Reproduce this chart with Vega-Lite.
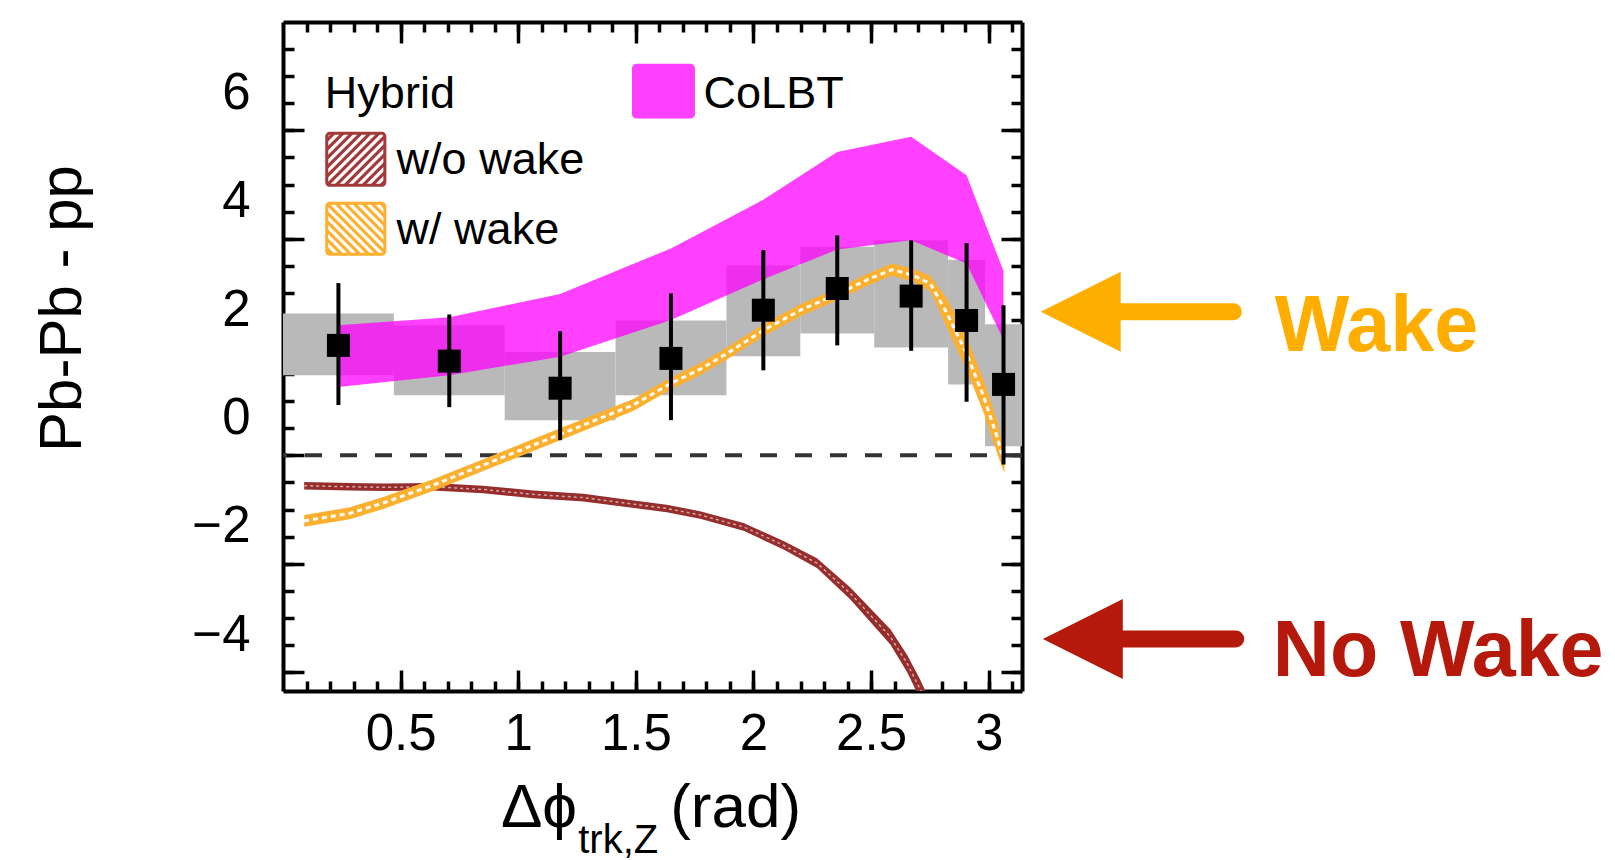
{
  "$schema": "https://vega.github.io/schema/vega-lite/v6.json",
  "autosize": {"type": "none"},
  "width": 739,
  "height": 669,
  "padding": {"left": 283, "top": 22, "right": 593, "bottom": 169},
  "background": "white",
  "config": {
    "view": {"stroke": null},
    "font": "Liberation Sans",
    "axis": {
      "grid": false,
      "domainColor": "#000",
      "tickColor": "#000",
      "tickWidth": 3.5,
      "domainWidth": 4,
      "labelFont": "Liberation Sans",
      "labelColor": "#000",
      "labelFontSize": 51,
      "labelOverlap": false,
      "labelFlush": false,
      "labelBound": false,
      "titleFont": "Liberation Sans",
      "titleColor": "#000",
      "titleFontWeight": "normal",
      "zindex": 1
    }
  },
  "datasets": {
    "bins": [
      {"lo": 0, "hi": 0.4712, "x": 0.2356, "y": 2.03, "eLo": 0.93, "eHi": 3.18, "sLo": 1.48, "sHi": 2.62},
      {"lo": 0.4712, "hi": 0.9425, "x": 0.7069, "y": 1.74, "eLo": 0.89, "eHi": 2.60, "sLo": 1.11, "sHi": 2.40},
      {"lo": 0.9425, "hi": 1.4137, "x": 1.1781, "y": 1.24, "eLo": 0.28, "eHi": 2.29, "sLo": 0.65, "sHi": 1.91},
      {"lo": 1.4137, "hi": 1.885, "x": 1.6493, "y": 1.79, "eLo": 0.65, "eHi": 2.99, "sLo": 1.11, "sHi": 2.49},
      {"lo": 1.885, "hi": 2.1991, "x": 2.042, "y": 2.68, "eLo": 1.57, "eHi": 3.79, "sLo": 1.83, "sHi": 3.51},
      {"lo": 2.1991, "hi": 2.5133, "x": 2.3562, "y": 3.08, "eLo": 2.03, "eHi": 4.06, "sLo": 2.25, "sHi": 3.85},
      {"lo": 2.5133, "hi": 2.8274, "x": 2.6704, "y": 2.94, "eLo": 1.93, "eHi": 3.97, "sLo": 1.99, "sHi": 3.97},
      {"lo": 2.8274, "hi": 2.9845, "x": 2.906, "y": 2.49, "eLo": 0.99, "eHi": 3.92, "sLo": 1.31, "sHi": 3.61},
      {"lo": 2.9845, "hi": 3.1416, "x": 3.0631, "y": 1.31, "eLo": -0.17, "eHi": 2.77, "sLo": 0.17, "sHi": 2.42}
    ],
    "colbt": [
      {"x": 0.2356, "lo": 1.26, "hi": 2.40},
      {"x": 0.7069, "lo": 1.48, "hi": 2.55},
      {"x": 1.1781, "lo": 1.82, "hi": 2.98},
      {"x": 1.6493, "lo": 2.50, "hi": 3.82},
      {"x": 2.042, "lo": 3.25, "hi": 4.72},
      {"x": 2.3562, "lo": 3.80, "hi": 5.60},
      {"x": 2.6704, "lo": 3.97, "hi": 5.88},
      {"x": 2.906, "lo": 3.54, "hi": 5.17},
      {"x": 3.0631, "lo": 2.13, "hi": 3.40}
    ],
    "wake": [
      {"x": 0.09, "y": -1.21, "lo": -1.32, "hi": -1.10},
      {"x": 0.284, "y": -1.07, "lo": -1.18, "hi": -0.96},
      {"x": 0.426, "y": -0.88, "lo": -0.99, "hi": -0.77},
      {"x": 0.638, "y": -0.55, "lo": -0.66, "hi": -0.44},
      {"x": 0.851, "y": -0.18, "lo": -0.29, "hi": -0.07},
      {"x": 1.064, "y": 0.19, "lo": 0.08, "hi": 0.30},
      {"x": 1.277, "y": 0.56, "lo": 0.45, "hi": 0.67},
      {"x": 1.489, "y": 0.93, "lo": 0.82, "hi": 1.04},
      {"x": 1.65, "y": 1.33, "lo": 1.22, "hi": 1.44},
      {"x": 1.773, "y": 1.59, "lo": 1.48, "hi": 1.70},
      {"x": 1.887, "y": 1.88, "lo": 1.77, "hi": 1.99},
      {"x": 2.043, "y": 2.31, "lo": 2.20, "hi": 2.42},
      {"x": 2.199, "y": 2.68, "lo": 2.57, "hi": 2.79},
      {"x": 2.358, "y": 2.98, "lo": 2.87, "hi": 3.09},
      {"x": 2.483, "y": 3.24, "lo": 3.13, "hi": 3.35},
      {"x": 2.589, "y": 3.43, "lo": 3.32, "hi": 3.54},
      {"x": 2.681, "y": 3.32, "lo": 3.20, "hi": 3.44},
      {"x": 2.752, "y": 3.17, "lo": 3.03, "hi": 3.31},
      {"x": 2.823, "y": 2.62, "lo": 2.35, "hi": 2.89},
      {"x": 2.909, "y": 1.85, "lo": 1.55, "hi": 2.15},
      {"x": 2.979, "y": 1.08, "lo": 0.78, "hi": 1.38},
      {"x": 3.036, "y": 0.34, "lo": 0.04, "hi": 0.64},
      {"x": 3.067, "y": -0.17, "lo": -0.33, "hi": 0.0}
    ],
    "nowake": [
      {"x": 0.09, "y": -0.56, "lo": -0.63, "hi": -0.49},
      {"x": 0.284, "y": -0.58, "lo": -0.65, "hi": -0.51},
      {"x": 0.426, "y": -0.59, "lo": -0.66, "hi": -0.52},
      {"x": 0.638, "y": -0.58, "lo": -0.65, "hi": -0.51},
      {"x": 0.851, "y": -0.63, "lo": -0.70, "hi": -0.56},
      {"x": 1.064, "y": -0.72, "lo": -0.79, "hi": -0.65},
      {"x": 1.277, "y": -0.78, "lo": -0.85, "hi": -0.71},
      {"x": 1.418, "y": -0.86, "lo": -0.93, "hi": -0.79},
      {"x": 1.631, "y": -0.98, "lo": -1.05, "hi": -0.91},
      {"x": 1.773, "y": -1.10, "lo": -1.17, "hi": -1.03},
      {"x": 1.958, "y": -1.32, "lo": -1.39, "hi": -1.25},
      {"x": 2.128, "y": -1.66, "lo": -1.74, "hi": -1.58},
      {"x": 2.27, "y": -1.99, "lo": -2.08, "hi": -1.90},
      {"x": 2.412, "y": -2.55, "lo": -2.66, "hi": -2.44},
      {"x": 2.582, "y": -3.35, "lo": -3.49, "hi": -3.21},
      {"x": 2.653, "y": -3.84, "lo": -4.00, "hi": -3.68},
      {"x": 2.71, "y": -4.33, "lo": -4.51, "hi": -4.15},
      {"x": 2.77, "y": -4.90, "lo": -5.08, "hi": -4.72}
    ],
    "swatches": [
      {"key": "w/o wake", "x": 0.186, "x2": 0.433, "y": 4.985, "y2": 5.945},
      {"key": "w/ wake", "x": 0.186, "x2": 0.433, "y": 3.712, "y2": 4.653},
      {"key": "CoLBT", "x": 1.49, "x2": 1.745, "y": 6.245, "y2": 7.2}
    ],
    "hatch": [
      {"key": "w/o wake", "x": 0.1864, "y": 5.815, "x2": 0.2162, "y2": 5.945},
      {"key": "w/o wake", "x": 0.1864, "y": 5.649, "x2": 0.2545, "y2": 5.945},
      {"key": "w/o wake", "x": 0.1864, "y": 5.483, "x2": 0.2928, "y2": 5.945},
      {"key": "w/o wake", "x": 0.1864, "y": 5.317, "x2": 0.3311, "y2": 5.945},
      {"key": "w/o wake", "x": 0.1864, "y": 5.151, "x2": 0.3694, "y2": 5.945},
      {"key": "w/o wake", "x": 0.1864, "y": 4.985, "x2": 0.4077, "y2": 5.945},
      {"key": "w/o wake", "x": 0.2247, "y": 4.985, "x2": 0.4332, "y2": 5.889},
      {"key": "w/o wake", "x": 0.2630, "y": 4.985, "x2": 0.4332, "y2": 5.723},
      {"key": "w/o wake", "x": 0.3013, "y": 4.985, "x2": 0.4332, "y2": 5.557},
      {"key": "w/o wake", "x": 0.3396, "y": 4.985, "x2": 0.4332, "y2": 5.391},
      {"key": "w/o wake", "x": 0.3779, "y": 4.985, "x2": 0.4332, "y2": 5.225},
      {"key": "w/o wake", "x": 0.4162, "y": 4.985, "x2": 0.4332, "y2": 5.059},
      {"key": "w/ wake", "x": 0.1864, "y": 3.823, "x2": 0.2119, "y2": 3.712},
      {"key": "w/ wake", "x": 0.1864, "y": 3.989, "x2": 0.2502, "y2": 3.712},
      {"key": "w/ wake", "x": 0.1864, "y": 4.155, "x2": 0.2885, "y2": 3.712},
      {"key": "w/ wake", "x": 0.1864, "y": 4.321, "x2": 0.3268, "y2": 3.712},
      {"key": "w/ wake", "x": 0.1864, "y": 4.487, "x2": 0.3651, "y2": 3.712},
      {"key": "w/ wake", "x": 0.1864, "y": 4.653, "x2": 0.4034, "y2": 3.712},
      {"key": "w/ wake", "x": 0.2247, "y": 4.653, "x2": 0.4332, "y2": 3.749},
      {"key": "w/ wake", "x": 0.2630, "y": 4.653, "x2": 0.4332, "y2": 3.915},
      {"key": "w/ wake", "x": 0.3013, "y": 4.653, "x2": 0.4332, "y2": 4.081},
      {"key": "w/ wake", "x": 0.3396, "y": 4.653, "x2": 0.4332, "y2": 4.247},
      {"key": "w/ wake", "x": 0.3779, "y": 4.653, "x2": 0.4332, "y2": 4.413},
      {"key": "w/ wake", "x": 0.4162, "y": 4.653, "x2": 0.4332, "y2": 4.579}
    ],
    "legendText": [
      {"x": 0.178, "y": 6.42, "text": "Hybrid"},
      {"x": 0.483, "y": 5.19, "text": "w/o wake"},
      {"x": 0.483, "y": 3.91, "text": "w/ wake"},
      {"x": 1.788, "y": 6.42, "text": "CoLBT"}
    ],
    "arrows": [
      {"key": "Wake", "tipX": 3.391, "x": 3.50, "x2": 4.04, "y": 2.65, "tx": 4.216, "ty": 1.92},
      {"key": "No Wake", "tipX": 3.40, "x": 3.50, "x2": 4.05, "y": -3.39, "tx": 4.208, "ty": -4.08}
    ],
    "xtitle": [
      {"x": 1.25, "y": -6.86, "text": "Δϕ", "part": "main"},
      {"x": 1.646, "y": -6.86, "text": "(rad)", "part": "unit"},
      {"x": 1.255, "y": -7.34, "text": "trk,Z", "part": "sub"}
    ]
  },
  "resolve": {
    "axis": {"x": "independent", "y": "independent"},
    "scale": {"color": "independent", "fill": "independent", "stroke": "independent"}
  },
  "layer": [
    {
      "data": {"name": "bins"},
      "mark": {"type": "rect", "color": "#B9B9B9", "opacity": 1},
      "encoding": {
        "x": {"field": "lo", "type": "quantitative", "scale": {"domain": [0, 3.14159], "nice": false, "zero": false},
          "axis": {"orient": "bottom", "values": [0.5, 1, 1.5, 2, 2.5, 3], "format": "~g", "tickSize": -21, "labelPadding": 39, "title": null, "domain": true}},
        "x2": {"field": "hi"},
        "y": {"field": "sLo", "type": "quantitative", "scale": {"domain": [-4.35, 8], "nice": false, "zero": false},
          "axis": {"orient": "left", "values": [-4, -2, 0, 2, 4, 6], "format": "~g", "tickSize": -21, "labelPadding": 54, "labelOffset": -37,
            "title": "Pb-Pb - pp", "titleFontSize": 60, "titleX": -221, "titleY": 286, "titleAngle": -90, "titleAlign": "center", "titleBaseline": "middle", "domain": true}},
        "y2": {"field": "sHi"}
      }
    },
    {
      "data": {"name": "colbt"},
      "mark": {"type": "area", "color": "#FF00FF", "opacity": 0.75, "orient": "vertical", "clip": true},
      "encoding": {
        "x": {"field": "x", "type": "quantitative", "scale": {"domain": [0, 3.14159], "nice": false, "zero": false},
          "axis": {"orient": "bottom", "values": [0.1,0.2,0.3,0.4,0.5,0.6,0.7,0.8,0.9,1,1.1,1.2,1.3,1.4,1.5,1.6,1.7,1.8,1.9,2,2.1,2.2,2.3,2.4,2.5,2.6,2.7,2.8,2.9,3,3.1], "tickSize": -10, "labels": false, "domain": false, "title": null}},
        "y": {"field": "lo", "type": "quantitative", "scale": {"domain": [-4.35, 8], "nice": false, "zero": false},
          "axis": {"orient": "left", "values": [-4,-3.5,-3,-2.5,-2,-1.5,-1,-0.5,0,0.5,1,1.5,2,2.5,3,3.5,4,4.5,5,5.5,6,6.5,7,7.5], "tickSize": -11, "labels": false, "domain": false, "title": null}},
        "y2": {"field": "hi"}
      }
    },
    {
      "data": {"values": [{}]},
      "mark": {"type": "rule", "color": "#333333", "strokeWidth": 4, "strokeDash": [17, 18]},
      "encoding": {
        "y": {"datum": 0, "type": "quantitative", "scale": {"domain": [-4.35, 8], "nice": false, "zero": false}, "axis": null}
      }
    },
    {
      "data": {"name": "nowake"},
      "mark": {"type": "area", "color": "#962E2E", "orient": "vertical", "clip": true},
      "encoding": {
        "x": {"field": "x", "type": "quantitative", "scale": {"domain": [0, 3.14159], "nice": false, "zero": false},
          "axis": {"orient": "top", "values": [0.5, 1, 1.5, 2, 2.5, 3], "tickSize": -21, "labels": false, "domain": true, "title": null}},
        "y": {"field": "lo", "type": "quantitative", "scale": {"domain": [-4.35, 8], "nice": false, "zero": false},
          "axis": {"orient": "right", "values": [-4, -2, 0, 2, 4, 6], "tickSize": -21, "labels": false, "domain": true, "title": null}},
        "y2": {"field": "hi"}
      }
    },
    {
      "data": {"name": "nowake"},
      "mark": {"type": "line", "color": "#D8A4A4", "strokeWidth": 1.5, "strokeDash": [3, 3], "clip": true},
      "encoding": {
        "x": {"field": "x", "type": "quantitative", "scale": {"domain": [0, 3.14159], "nice": false, "zero": false},
          "axis": {"orient": "top", "values": [0.1,0.2,0.3,0.4,0.5,0.6,0.7,0.8,0.9,1,1.1,1.2,1.3,1.4,1.5,1.6,1.7,1.8,1.9,2,2.1,2.2,2.3,2.4,2.5,2.6,2.7,2.8,2.9,3,3.1], "tickSize": -10, "labels": false, "domain": false, "title": null}},
        "y": {"field": "y", "type": "quantitative", "scale": {"domain": [-4.35, 8], "nice": false, "zero": false},
          "axis": {"orient": "right", "values": [-4,-3.5,-3,-2.5,-2,-1.5,-1,-0.5,0,0.5,1,1.5,2,2.5,3,3.5,4,4.5,5,5.5,6,6.5,7,7.5], "tickSize": -11, "labels": false, "domain": false, "title": null}}
      }
    },
    {
      "data": {"name": "wake"},
      "mark": {"type": "area", "color": "#FBB030", "orient": "vertical", "clip": true},
      "encoding": {
        "x": {"field": "x", "type": "quantitative", "scale": {"domain": [0, 3.14159], "nice": false, "zero": false}, "axis": null},
        "y": {"field": "lo", "type": "quantitative", "scale": {"domain": [-4.35, 8], "nice": false, "zero": false}, "axis": null},
        "y2": {"field": "hi"}
      }
    },
    {
      "data": {"name": "wake"},
      "mark": {"type": "line", "color": "#FFFFFF", "strokeWidth": 3, "strokeDash": [5, 4], "clip": true},
      "encoding": {
        "x": {"field": "x", "type": "quantitative", "scale": {"domain": [0, 3.14159], "nice": false, "zero": false}, "axis": null},
        "y": {"field": "y", "type": "quantitative", "scale": {"domain": [-4.35, 8], "nice": false, "zero": false}, "axis": null}
      }
    },
    {
      "data": {"name": "bins"},
      "mark": {"type": "rule", "color": "#000000", "strokeWidth": 4},
      "encoding": {
        "x": {"field": "x", "type": "quantitative", "scale": {"domain": [0, 3.14159], "nice": false, "zero": false}, "axis": null},
        "y": {"field": "eLo", "type": "quantitative", "scale": {"domain": [-4.35, 8], "nice": false, "zero": false}, "axis": null},
        "y2": {"field": "eHi"}
      }
    },
    {
      "data": {"name": "bins"},
      "mark": {"type": "point", "shape": "square", "filled": true, "color": "#000000", "opacity": 1, "size": 529, "strokeWidth": 0},
      "encoding": {
        "x": {"field": "x", "type": "quantitative", "scale": {"domain": [0, 3.14159], "nice": false, "zero": false}, "axis": null},
        "y": {"field": "y", "type": "quantitative", "scale": {"domain": [-4.35, 8], "nice": false, "zero": false}, "axis": null}
      }
    },
    {
      "data": {"name": "swatches"},
      "mark": {"type": "rect", "strokeWidth": 3, "cornerRadius": 3},
      "encoding": {
        "x": {"field": "x", "type": "quantitative", "scale": {"domain": [0, 3.14159], "nice": false, "zero": false}, "axis": null},
        "x2": {"field": "x2"},
        "y": {"field": "y", "type": "quantitative", "scale": {"domain": [-4.35, 8], "nice": false, "zero": false}, "axis": null},
        "y2": {"field": "y2"},
        "fill": {"field": "key", "type": "nominal", "scale": {"domain": ["w/o wake", "w/ wake", "CoLBT"], "range": ["#FFFFFF", "#FFFFFF", "#FF40FF"]}, "legend": null},
        "stroke": {"field": "key", "type": "nominal", "scale": {"domain": ["w/o wake", "w/ wake", "CoLBT"], "range": ["#A23A3A", "#FDB030", "#FF40FF"]}, "legend": null}
      }
    },
    {
      "data": {"name": "hatch"},
      "mark": {"type": "rule", "strokeWidth": 3.2, "strokeCap": "butt"},
      "encoding": {
        "x": {"field": "x", "type": "quantitative", "scale": {"domain": [0, 3.14159], "nice": false, "zero": false}, "axis": null},
        "x2": {"field": "x2"},
        "y": {"field": "y", "type": "quantitative", "scale": {"domain": [-4.35, 8], "nice": false, "zero": false}, "axis": null},
        "y2": {"field": "y2"},
        "color": {"field": "key", "type": "nominal", "scale": {"domain": ["w/o wake", "w/ wake"], "range": ["#A23A3A", "#FDB030"]}, "legend": null}
      }
    },
    {
      "data": {"name": "legendText"},
      "mark": {"type": "text", "align": "left", "baseline": "alphabetic", "fontSize": 45, "font": "Liberation Sans", "color": "#000000"},
      "encoding": {
        "x": {"field": "x", "type": "quantitative", "scale": {"domain": [0, 3.14159], "nice": false, "zero": false}, "axis": null},
        "y": {"field": "y", "type": "quantitative", "scale": {"domain": [-4.35, 8], "nice": false, "zero": false}, "axis": null},
        "text": {"field": "text"}
      }
    },
    {
      "data": {"name": "arrows"},
      "mark": {"type": "rule", "strokeWidth": 17, "strokeCap": "round", "clip": false},
      "encoding": {
        "x": {"field": "x", "type": "quantitative", "scale": {"domain": [0, 3.14159], "nice": false, "zero": false}, "axis": null},
        "x2": {"field": "x2"},
        "y": {"field": "y", "type": "quantitative", "scale": {"domain": [-4.35, 8], "nice": false, "zero": false}, "axis": null},
        "color": {"field": "key", "type": "nominal", "scale": {"domain": ["Wake", "No Wake"], "range": ["#FFAE00", "#B5190B"]}, "legend": null}
      }
    },
    {
      "data": {"name": "arrows"},
      "mark": {"type": "point", "shape": "M-1,0L1,-1L1,1Z", "filled": true, "opacity": 1, "size": 6400, "strokeWidth": 0, "clip": false},
      "encoding": {
        "x": {"field": "tipX", "type": "quantitative", "scale": {"domain": [0, 3.14159], "nice": false, "zero": false}, "axis": null},
        "y": {"field": "y", "type": "quantitative", "scale": {"domain": [-4.35, 8], "nice": false, "zero": false}, "axis": null},
        "color": {"field": "key", "type": "nominal", "scale": {"domain": ["Wake", "No Wake"], "range": ["#FFAE00", "#B5190B"]}, "legend": null}
      }
    },
    {
      "data": {"name": "arrows"},
      "mark": {"type": "text", "align": "left", "baseline": "alphabetic", "fontSize": 79, "fontWeight": "bold", "font": "Liberation Sans", "clip": false},
      "encoding": {
        "x": {"field": "tx", "type": "quantitative", "scale": {"domain": [0, 3.14159], "nice": false, "zero": false}, "axis": null},
        "y": {"field": "ty", "type": "quantitative", "scale": {"domain": [-4.35, 8], "nice": false, "zero": false}, "axis": null},
        "text": {"field": "key"},
        "color": {"field": "key", "type": "nominal", "scale": {"domain": ["Wake", "No Wake"], "range": ["#FFAE00", "#B5190B"]}, "legend": null}
      }
    },
    {
      "data": {"name": "xtitle"},
      "transform": [{"filter": "datum.part === 'main'"}],
      "mark": {"type": "text", "align": "right", "baseline": "alphabetic", "fontSize": 62, "font": "Liberation Sans", "color": "#000000", "clip": false},
      "encoding": {
        "x": {"field": "x", "type": "quantitative", "scale": {"domain": [0, 3.14159], "nice": false, "zero": false}, "axis": null},
        "y": {"field": "y", "type": "quantitative", "scale": {"domain": [-4.35, 8], "nice": false, "zero": false}, "axis": null},
        "text": {"field": "text"}
      }
    },
    {
      "data": {"name": "xtitle"},
      "transform": [{"filter": "datum.part === 'unit'"}],
      "mark": {"type": "text", "align": "left", "baseline": "alphabetic", "fontSize": 62, "font": "Liberation Sans", "color": "#000000", "clip": false},
      "encoding": {
        "x": {"field": "x", "type": "quantitative", "scale": {"domain": [0, 3.14159], "nice": false, "zero": false}, "axis": null},
        "y": {"field": "y", "type": "quantitative", "scale": {"domain": [-4.35, 8], "nice": false, "zero": false}, "axis": null},
        "text": {"field": "text"}
      }
    },
    {
      "data": {"name": "xtitle"},
      "transform": [{"filter": "datum.part === 'sub'"}],
      "mark": {"type": "text", "align": "left", "baseline": "alphabetic", "fontSize": 40, "font": "Liberation Sans", "color": "#000000", "clip": false},
      "encoding": {
        "x": {"field": "x", "type": "quantitative", "scale": {"domain": [0, 3.14159], "nice": false, "zero": false}, "axis": null},
        "y": {"field": "y", "type": "quantitative", "scale": {"domain": [-4.35, 8], "nice": false, "zero": false}, "axis": null},
        "text": {"field": "text"}
      }
    }
  ]
}
